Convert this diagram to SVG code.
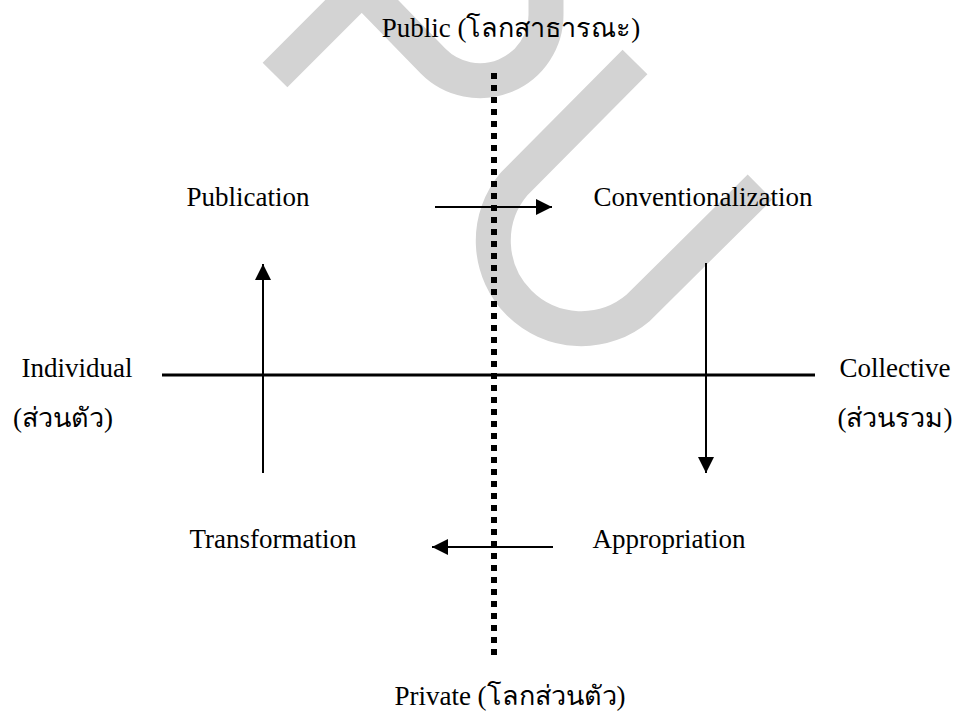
<svg xmlns="http://www.w3.org/2000/svg" width="961" height="721" viewBox="0 0 961 721">
<style>
.t{font-family:"Liberation Serif","DejaVu Serif","Noto Sans",serif;font-size:27px;fill:#000}
.wm{fill:none;stroke:#d3d3d3;stroke-width:35;stroke-linecap:butt;stroke-linejoin:miter}
.ax{stroke:#000;stroke-width:3;fill:none}
.ar{stroke:#000;stroke-width:2;fill:none}
.dot{stroke:#000;stroke-width:6;stroke-dasharray:6 6;fill:none}
</style>
<defs>
<marker id="ah" viewBox="0 0 16 16" refX="16" refY="8" markerWidth="16" markerHeight="16" markerUnits="userSpaceOnUse" orient="auto">
<path d="M0,0 L16,8 L0,16 Z" fill="#000"/>
</marker>
</defs>
<rect width="961" height="721" fill="#fff"/>
<g id="watermark">
<path class="wm" d="M275,75 L362,-12 L433,61 A66 66 0 0 0 546,14 L546,-40"/>
<path class="wm" d="M635,62 L514,184 A88 88 0 0 0 638,308 L760,187"/>
</g>
<g id="axes">
<line class="ax" x1="162" y1="375" x2="815" y2="375"/>
<line class="dot" x1="494" y1="73" x2="494" y2="660"/>
</g>
<g id="connectors">
<line class="ar" x1="435" y1="207" x2="552" y2="207" marker-end="url(#ah)"/>
<line class="ar" x1="706" y1="263" x2="706" y2="473" marker-end="url(#ah)"/>
<line class="ar" x1="553" y1="547" x2="432" y2="547" marker-end="url(#ah)"/>
<line class="ar" x1="263" y1="473" x2="263" y2="264" marker-end="url(#ah)"/>
</g>
<g id="public"><text class="t" x="511" y="37" text-anchor="middle">Public (โลกสาธารณะ)</text></g>
<g id="private"><text class="t" x="510" y="705" text-anchor="middle">Private (โลกส่วนตัว)</text></g>
<g id="individual">
<text class="t" x="77" y="377" text-anchor="middle">Individual</text>
<text class="t" x="63" y="427" text-anchor="middle">(ส่วนตัว)</text>
</g>
<g id="collective">
<text class="t" x="895" y="377" text-anchor="middle">Collective</text>
<text class="t" x="895" y="427" text-anchor="middle">(ส่วนรวม)</text>
</g>
<g id="publication"><text class="t" x="248" y="206" text-anchor="middle">Publication</text></g>
<g id="conventionalization"><text class="t" x="703" y="206" text-anchor="middle">Conventionalization</text></g>
<g id="transformation"><text class="t" x="273" y="548" text-anchor="middle">Transformation</text></g>
<g id="appropriation"><text class="t" x="669" y="548" text-anchor="middle">Appropriation</text></g>
</svg>
